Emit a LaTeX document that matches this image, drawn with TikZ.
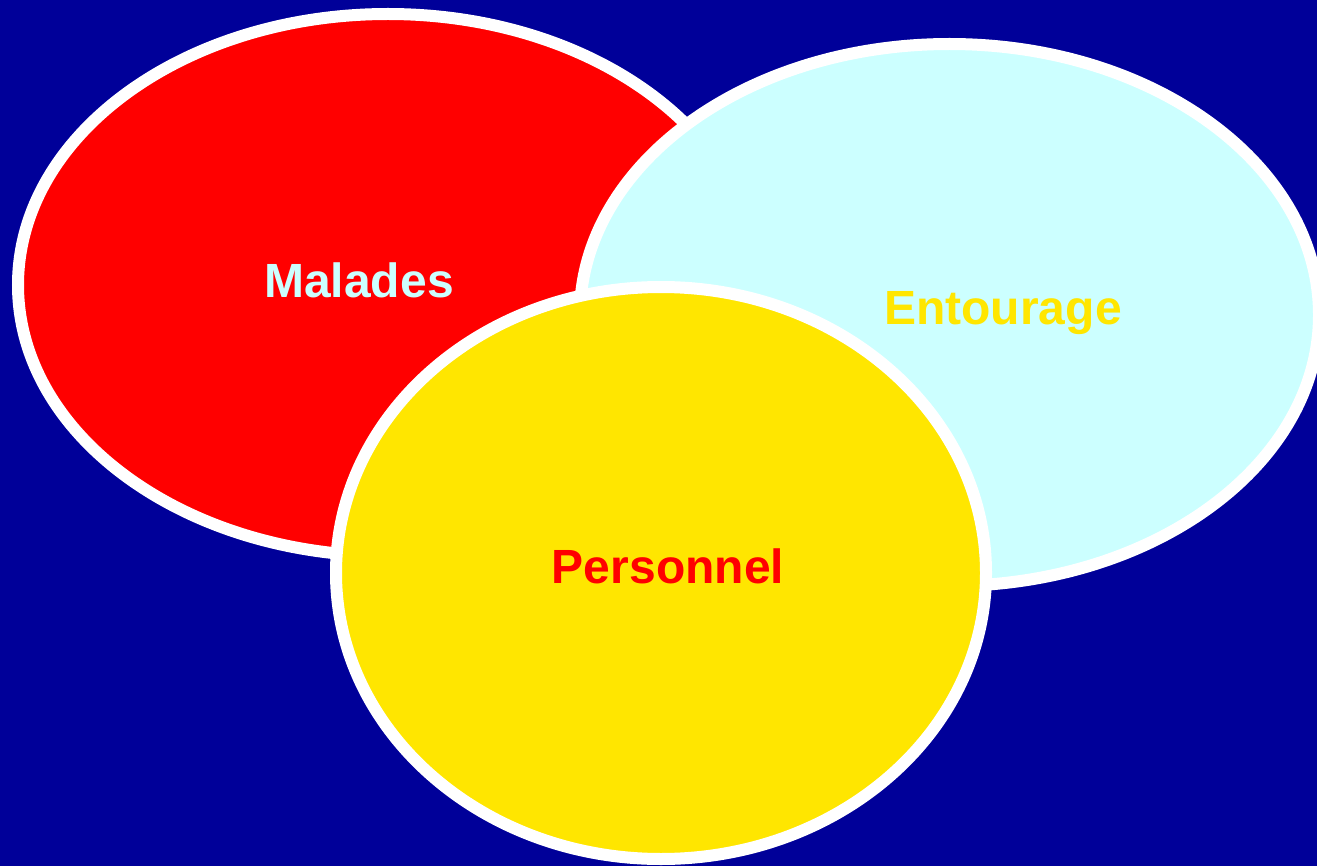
\documentclass[tikz,border=0pt]{standalone}
\usepackage{fontspec}
\setmainfont{Liberation Sans}
\definecolor{bgblue}{RGB}{0,0,153}
\definecolor{pale}{RGB}{204,255,255}
\definecolor{gold}{RGB}{255,230,0}
\begin{document}
\begin{tikzpicture}[x=0.75pt,y=0.75pt,yscale=-1,xscale=1,
    blob/.style={draw=white,line width=9pt},
    tag/.style={anchor=base,inner sep=0.75pt,font=\bfseries\fontsize{36}{43}\selectfont}]
\useasboundingbox (0,0) rectangle (1317,866);
\fill [bgblue] (0,0) rectangle (1317,866);
\begin{scope}
\clip (0,0) rectangle (1317,866);
\draw [blob,fill=red]  (388,285) ellipse [x radius=370,y radius=271];
\draw [blob,fill=pale] (949.5,315) ellipse [x radius=369.5,y radius=271];
\draw [blob,fill=gold] (661,573) ellipse [x radius=325,y radius=286];
\end{scope}

\node (malades) [tag,text=pale] at (359,297) {Malades};
\node (entourage) [tag,text=gold] at (1003,325) {Entourage};
\node (personnel) [tag,text=red] at (668,583) {Personnel};
\end{tikzpicture}
\end{document}
